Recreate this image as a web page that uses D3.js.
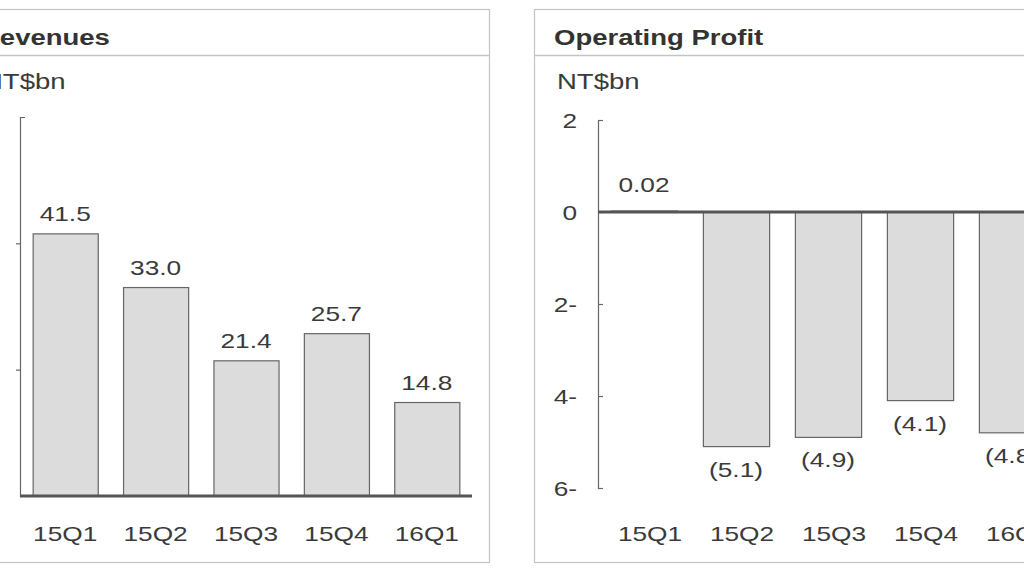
<!DOCTYPE html>
<html>
<head>
<meta charset="utf-8">
<script src="https://cdn.jsdelivr.net/npm/d3@7"></script>
<style>
  body { margin: 0; background: #fff; }
  svg { display: block; }
  text { font-family: "Liberation Sans", Arial, sans-serif; fill: #3a3a3a; }
</style>
</head>
<body>
<svg id="chart" width="1024" height="576"></svg>
<script>
var quarters = ["15Q1", "15Q2", "15Q3", "15Q4", "16Q1"];

var revenues = [41.5, 33.0, 21.4, 25.7, 14.8];
var revenueLabels = ["41.5", "33.0", "21.4", "25.7", "14.8"];
var revenueTicks = [20, 40];
var revenueTickLabels = ["", ""]; // labels sit off the left edge of the picture

var profit = [0.02, -5.1, -4.9, -4.1, -4.8];
var profitLabels = ["0.02", "(5.1)", "(4.9)", "(4.1)", "(4.8)"];
var profitTicks = [2, 0, -2, -4, -6];
var profitTickLabels = ["2", "0", "2-", "4-", "6-"];

var STRETCH = 1.25; // the source picture is wider than tall, text looks stretched

var svg = d3.select("#chart");

var stretched = function (sel, x, y) {
  sel.attr("transform", "translate(" + x + "," + y + ") scale(" + STRETCH + ",1)");
};

var drawPanel = function (cfg) {
  var g = svg.append("g");

  // frame + header line
  g.append("rect")
    .attr("x", cfg.left + 0.5).attr("y", 9.5)
    .attr("width", 529).attr("height", 553)
    .attr("fill", "none").attr("stroke", "#c4c4c4").attr("stroke-width", 1.2);
  g.append("line")
    .attr("x1", cfg.left).attr("x2", cfg.left + 529)
    .attr("y1", 55.5).attr("y2", 55.5)
    .attr("stroke", "#c4c4c4").attr("stroke-width", 1.5);

  g.append("text").text(cfg.title)
    .attr("font-size", 22).attr("font-weight", "bold").style("fill", "#333")
    .call(stretched, cfg.left + 20, 45);
  g.append("text").text("NT$bn")
    .attr("font-size", 22)
    .call(stretched, cfg.left + 23, 89);

  var xScale = d3.scaleBand().domain(quarters)
    .range([cfg.axisX, cfg.axisX + cfg.width])
    .paddingInner(0.28).paddingOuter(0.14);
  var yScale = d3.scaleLinear().domain(cfg.domain).range([cfg.bottom, cfg.top]);

  // y axis
  var axis = d3.axisLeft(yScale)
    .tickValues(cfg.ticks)
    .tickFormat(function (d, i) { return cfg.tickLabels[i]; })
    .tickSizeInner(cfg.tickInner)
    .tickSizeOuter(-5)
    .tickPadding(cfg.tickPad);
  var ag = g.append("g")
    .attr("transform", "translate(" + cfg.axisX + ",0)")
    .call(axis);
  ag.select(".domain").attr("stroke", "#666").attr("stroke-width", 1.2);
  ag.selectAll(".tick line").attr("stroke", "#666").attr("stroke-width", 1.2);
  ag.selectAll(".tick text")
    .attr("font-size", 21).attr("font-family", null).style("fill", "#3a3a3a")
    .each(function () {
      var t = d3.select(this);
      var tx = +t.attr("x");
      t.attr("x", null).attr("dy", "0.36em");
      stretched(t, tx, 0);
    });

  // bars
  g.selectAll(".bar")
    .data(cfg.values)
    .enter()
    .append("rect")
    .attr("x", function (v, i) { return xScale(quarters[i]) + 0.5; })
    .attr("y", function (v) { return yScale(Math.max(v, 0)); })
    .attr("width", xScale.bandwidth())
    .attr("height", function (v) { return Math.abs(yScale(v) - yScale(0)); })
    .attr("fill", "#dcdcdc")
    .attr("stroke", "#666")
    .attr("stroke-width", 1.2);

  // zero line
  g.append("line")
    .attr("x1", cfg.axisX).attr("x2", cfg.zeroEnd)
    .attr("y1", yScale(0)).attr("y2", yScale(0))
    .attr("stroke", "#555").attr("stroke-width", 3);

  // value labels
  g.selectAll(".val")
    .data(cfg.values)
    .enter()
    .append("text")
    .attr("font-size", 21)
    .attr("text-anchor", "middle")
    .text(function (v, i) { return cfg.labels[i]; })
    .each(function (v, i) {
      var cx = xScale(quarters[i]) + xScale.bandwidth() / 2;
      var y = v >= 0 ? yScale(v) - cfg.posGap : yScale(v) + 30;
      stretched(d3.select(this), cx, y);
    });

  // category labels
  g.selectAll(".cat")
    .data(quarters)
    .enter()
    .append("text")
    .attr("font-size", 21)
    .attr("text-anchor", "middle")
    .text(function (q) { return q; })
    .each(function (q) {
      var cx = xScale(q) + xScale.bandwidth() / 2 + cfg.catShift;
      stretched(d3.select(this), cx, 541);
    });
};

drawPanel({
  title: "Revenues", left: -40,
  axisX: 20, width: 452, top: 117, bottom: 496,
  domain: [0, 60], ticks: revenueTicks, tickLabels: revenueTickLabels,
  tickInner: 4, tickPad: 21,
  values: revenues, labels: revenueLabels,
  zeroEnd: 472, posGap: 13, catShift: 0
});

drawPanel({
  title: "Operating Profit", left: 534,
  axisX: 598, width: 460, top: 120, bottom: 488,
  domain: [-6, 2], ticks: profitTicks, tickLabels: profitTickLabels,
  tickInner: -5, tickPad: 21,
  values: profit, labels: profitLabels,
  zeroEnd: 1058, posGap: 19, catShift: 6
});
</script>
</body>
</html>
